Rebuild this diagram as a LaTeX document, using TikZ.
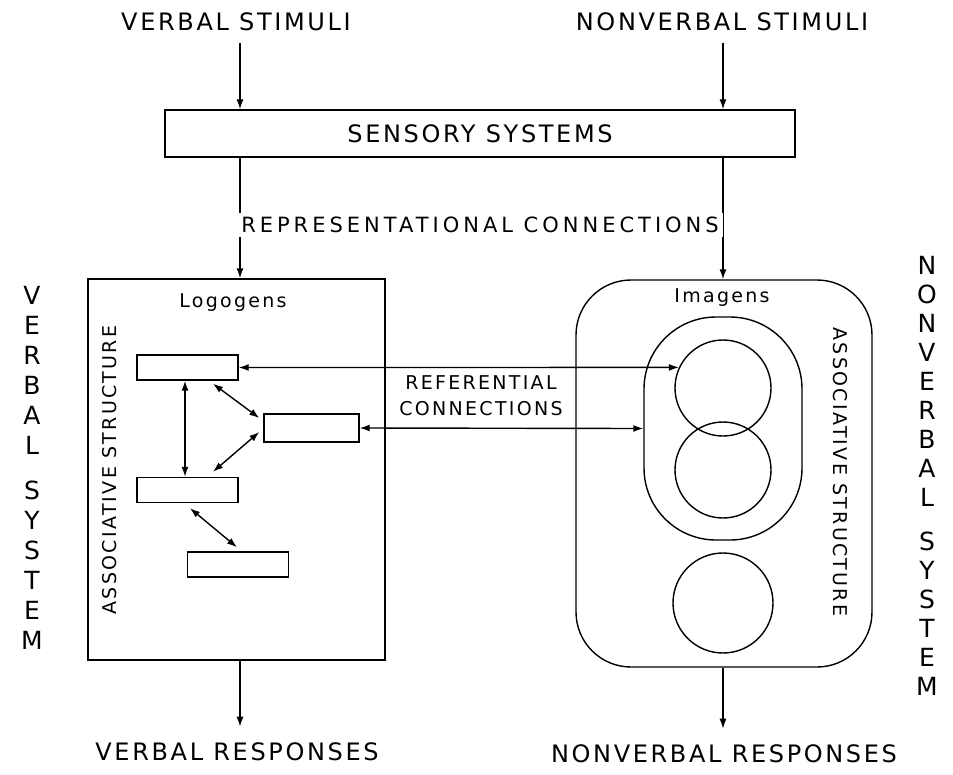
\documentclass[tikz,border=0pt]{standalone}
\usepackage{fontspec}
\setmainfont{DejaVu Sans}
\newfontfamily\letterfont[LetterSpace=11]{DejaVu Sans}
\newfontfamily\smallletterfont[LetterSpace=12]{DejaVu Sans}
\newfontfamily\wideletterfont[LetterSpace=19]{DejaVu Sans}
\usetikzlibrary{arrows.meta,positioning}
\tikzset{
  bigtext/.style={font=\letterfont\fontsize{24}{28}\selectfont,inner sep=4pt},
  smalltext/.style={font=\smallletterfont\fontsize{19}{26}\selectfont,inner sep=1pt},
  sidetext/.style={align=center,font=\fontsize{25}{30}\selectfont,inner sep=0pt},
  logobox/.style={draw,line width=1.4pt,minimum width=101pt,minimum height=25pt,inner sep=0pt},
  imagen/.style={draw,circle,line width=1.4pt,minimum size=96pt,inner sep=0pt},
  flowArrow/.style={-{Latex[length=10pt,width=7pt]},line width=1.4pt},
  linkArrow/.style={{Latex[length=10pt,width=7pt]}-{Latex[length=10pt,width=7pt]},line width=1.4pt}
}
\begin{document}
\begin{tikzpicture}[x=1pt,y=-1pt]
  \useasboundingbox (0,0) rectangle (953,774);
  % columns of the two systems
  \coordinate (vcol) at (240,0);
  \coordinate (ncol) at (723,0);
  \node[bigtext] (vstim) at (236,22) {VERBAL STIMULI};
  \node[bigtext] (nstim) at (722,22) {NONVERBAL STIMULI};
  \node[bigtext,draw,line width=1.4pt,minimum width=630pt,minimum height=47pt] (sensory) at (480,133.5) {SENSORY SYSTEMS};
  \node[draw,line width=1.4pt,minimum width=297pt,minimum height=381pt] (verbal) at (236.5,469.5) {};
  \node[draw,line width=1.4pt,rounded corners=55pt,minimum width=296pt,minimum height=387pt] (nonverbal) at (724,473.5) {};
  \node[smalltext] (logogens) at (233,303) {Logogens};
  \node[smalltext] (imagens) at (722,298) {Imagens};
  \node[smalltext,rotate=90] (vassoc) at (110,470) {ASSOCIATIVE STRUCTURE};
  \node[smalltext,rotate=-90] (nassoc) at (840,472) {ASSOCIATIVE STRUCTURE};
  % logogens
  \node[logobox] (logo1) at (187.5,367.5) {};
  \node[logobox,minimum width=95pt,minimum height=28pt] (logo2) at (311.5,428) {};
  \node[logobox] (logo3) at (187.5,490) {};
  \node[logobox] (logo4) at (238,564.5) {};
  % imagens
  \node[draw,line width=1.4pt,rounded corners=72pt,minimum width=158pt,minimum height=223pt] (oval) at (723,428.5) {};
  \node[imagen] (img1) at (723,388) {};
  \node[imagen] (img2) at (723,470) {};
  \node[imagen,minimum size=100pt] (img3) at (723,603) {};
  % stimuli and representational connections
  \draw[flowArrow,shorten <=8pt] (vstim.south -| vcol) -- (sensory.north -| vcol);
  \draw[flowArrow,shorten <=8pt] (nstim.south -| ncol) -- (sensory.north -| ncol);
  \draw[flowArrow] (sensory.south -| vcol) -- (verbal.north -| vcol);
  \draw[flowArrow] (sensory.south -| ncol) -- (nonverbal.north -| ncol);
  \node[bigtext,font=\wideletterfont\fontsize{21}{24}\selectfont,fill=white] (repr) at (480,225) {REPRESENTATIONAL CONNECTIONS};
  % associative structure
  \draw[linkArrow] ([xshift=-2.5pt]logo1.south) -- ([xshift=-2.5pt]logo3.north);
  \draw[linkArrow] ([xshift=25.5pt,yshift=-3pt]logo1.south) -- ([xshift=-4pt,yshift=10pt]logo2.west);
  \draw[linkArrow] ([xshift=-4pt,yshift=-4pt]logo2.west) -- ([xshift=25.5pt,yshift=5pt]logo3.north);
  \draw[linkArrow] ([xshift=2.5pt,yshift=-5pt]logo3.south) -- ([xshift=-1pt,yshift=4pt]logo4.north);
  % referential connections
  \draw[linkArrow] (logo1.east) -- (img1.155);
  \draw[linkArrow] (logo2.east) -- (oval.west);
  \node[smalltext,align=center] (refer) at (481,396) {REFERENTIAL\\CONNECTIONS};
  % responses
  \node[bigtext] (vresp) at (237,752) {VERBAL RESPONSES};
  \node[bigtext] (nresp) at (724,754) {NONVERBAL RESPONSES};
  \draw[flowArrow,shorten >=12pt] (verbal.south -| vcol) -- (vresp.north -| vcol);
  \draw[flowArrow,shorten >=12pt] (nonverbal.south -| ncol) -- (nresp.north -| ncol);
  % system labels
  \node[sidetext] (vsys) at (32,468) {V\\E\\R\\B\\A\\L\\[15pt]S\\Y\\S\\T\\E\\M};
  \node[sidetext,font=\fontsize{25}{29}\selectfont] (nsys) at (927,475.5) {N\\O\\N\\V\\E\\R\\B\\A\\L\\[15pt]S\\Y\\S\\T\\E\\M};
\end{tikzpicture}
\end{document}
